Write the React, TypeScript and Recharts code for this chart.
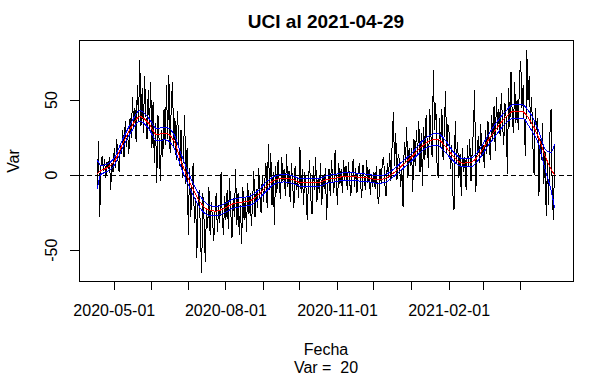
import React from "react";
import { LineChart, Line, XAxis, YAxis, ReferenceLine, ReferenceArea } from "recharts";

const DAY = 86400000;
const startDate = "2020-04-17";

// daily values, one row per month (Apr 17 .. Apr 29)
const aprValues20 = [-8, 23, -28, 6, 13, 3, 11, -2, 9, 4, 12, -10, 8, 2];
const mayValues = [18, 5, 24, 10, 2, 21, 14, 30, 12, 36, 19, 28, 14, 38, 25, 52, 31, 45, 22, 60, 36, 77, 33, 58, 28, 66, 41, 24, 57, 30, 62];
const junValues = [18, 49, 8, 35, -5, 40, 22, -4, 30, 12, 44, 20, 60, 24, 67, 15, 48, 62, 19, 38, 10, 43, 25, 6, 30, -2, 14, 40, -6, 18];
const julValues = [-40, 5, -28, -8, 8, -32, -15, -55, -20, -10, -38, -65, -12, -30, -58, -22, -35, -8, -40, -18, -30, -44, -25, -12, -38, -20, -32, 2, -28, -40, -14];
const augValues = [-30, -10, -36, -2, -24, -42, -15, -28, 4, -33, -12, -40, -20, -46, -8, -30, -15, -38, -5, -26, -12, -34, -18, 3, -28, -9, -22, 5, -14, -25, 0];
const sepValues = [-18, -5, 8, -22, 21, -10, 15, -20, 2, -33, 6, -12, 10, -6, -16, 12, -4, 4, -14, 14, -8, 3, -18, 8, -5, -22, 6, -10, -2, -15];
const octValues = [19, -12, 4, -20, 2, -8, -30, -4, 10, -16, -26, 6, -10, 12, -18, -2, -12, 8, -20, 0, -9, 5, -30, -6, 4, -14, 10, -3, -12, 17, -5];
const novValues = [-20, 8, -6, 4, -12, 10, -3, 6, -10, 9, -4, -14, 3, 11, -8, 5, -12, 2, 8, -6, -15, 7, -2, -10, 10, -5, 4, -13, 1, -8];
const decValues = [2, -9, 6, -14, -19, 4, -5, 10, 12, -6, -14, 8, -2, 15, -4, 20, 42, 6, 28, -3, 14, 10, -8, 4, -21, 22, 8, 32, -2, 18, 6];
const janValues = [18, -11, 24, 6, 30, 14, 36, 2, 28, -7, 32, 10, 40, 20, 5, 44, 26, 12, 70, 30, 48, 8, -2, 38, 18, 44, 10, 30, 56, 15, 34];
const febValues = [28, 4, 20, -12, -23, 36, 8, 22, -2, 14, -14, 18, 2, 12, -10, 20, 6, 24, -4, 16, 30, 57, -11, 14, 26, 8, 34, 12];
const marValues = [20, 5, 30, 14, 36, 22, 10, 40, 24, 46, 16, 52, 30, 44, 26, 55, 34, 20, 48, 38, 1, 58, 32, 69, 40, 28, 62, 35, 50, 30, 66];
const aprValues21 = [76, 45, 60, 28, 13, 83, 50, 66, 34, 52, 20, 0, 45, 30, 38, -14, 24, 10, 35, -6, 16, -27, 8, -20, 26, 44, -12, -30, 20];

// smoothed fit and bands, days since start
const smoothDays = [0, 3, 7, 14, 21, 28, 35, 42, 49, 56, 63, 70, 77, 84, 91, 98, 105, 112, 119, 126, 133, 140, 147, 154, 161, 168, 175, 182, 189, 196, 203, 210, 217, 224, 231, 238, 245, 252, 259, 266, 273, 280, 287, 294, 301, 308, 315, 322, 329, 336, 343, 350, 357, 364, 369, 374, 377];
const fitValues = [1, 3, 4.5, 9, 21, 32, 39, 35, 27, 28, 23, 7, -6, -17, -23, -24, -22, -19, -18, -17, -13, -7, -3, -2, -3, -5, -5, -5, -3, -2, -1, -1, -1.5, -2, -3, -2, 2, 7, 12, 18, 22.5, 24, 19, 12, 8, 8.5, 14, 23, 31, 38, 42.5, 42.5, 36, 24.5, 13, 4, 0];
const upperValues = [10, 6.5, 7, 11.5, 24, 35, 43, 38.5, 31, 32, 27.5, 12, -2, -13, -19.5, -21, -19, -16, -15, -14, -10, -4, -0.5, 0.5, -0.5, -2.5, -2.5, -2.5, -0.5, 0.5, 1.5, 1.5, 1, 0.5, -0.5, 0.5, 4.5, 9.5, 14.5, 21, 26, 28, 23, 15, 11, 11.5, 17, 26.5, 35, 42, 47, 47, 41, 29, 17.5, 15, 21];
const lowerValues = [-9, 0.5, 2, 6.5, 18.5, 29, 36, 31.5, 23, 23.5, 18.5, 3, -10, -21, -26.5, -27, -25, -22, -21, -20, -16, -10, -5.5, -4.5, -5.5, -7.5, -7.5, -7.5, -5.5, -4.5, -3.5, -3.5, -4, -4.5, -5.5, -4.5, -0.5, 4.5, 9.5, 15, 19, 20, 15, 9, 5.5, 5.5, 11, 19.5, 27, 34, 38, 38, 31, 20, 4, -10, -22];

const tickDates = ["2020-05-01", "2020-06-01", "2020-07-01", "2020-08-01", "2020-09-01", "2020-10-01", "2020-11-01", "2020-12-01", "2021-01-01", "2021-02-01", "2021-03-01", "2021-04-01"];
const labeledDates = ["2020-05-01", "2020-08-01", "2020-11-01", "2021-02-01"];
const yTicks = [-50, 0, 50];

const toTime = (s: string) => {
  const [y, m, d] = s.split("-").map(Number);
  return Date.UTC(y, m - 1, d);
};

const t0 = toTime(startDate);
const allValues = [
  ...aprValues20, ...mayValues, ...junValues, ...julValues, ...augValues, ...sepValues,
  ...octValues, ...novValues, ...decValues, ...janValues, ...febValues, ...marValues, ...aprValues21,
];
const daily = allValues.map((v, i) => ({ t: t0 + i * DAY, v }));
const smooth = smoothDays.map((d, i) => ({ t: t0 + d * DAY, fit: fitValues[i], up: upperValues[i], lo: lowerValues[i] }));
const lastDay = allValues.length - 1;
const xPad = lastDay * 0.04;
const xMin = t0 - xPad * DAY;
const xMax = t0 + (lastDay + xPad) * DAY;
const yMin = -70.5;
const yMax = 90;
const xTicks = tickDates.map(toTime);
const labelSet = new Set(labeledDates.map(toTime));

const font = "'Liberation Sans', Arial, sans-serif";
const crisp = { shapeRendering: "crispEdges" } as React.CSSProperties;

function XTick(props: any) {
  const { x, y, payload } = props;
  if (!labelSet.has(payload.value)) return null;
  const d = new Date(payload.value).toISOString().slice(0, 10);
  return (
    <text x={x} y={y + 24} textAnchor="middle" fontSize={16} fontFamily={font} fill="#000">
      {d}
    </text>
  );
}

function YTick(props: any) {
  const { x, y, payload } = props;
  const bx = x - 11;
  return (
    <text x={bx} y={y} transform={`rotate(-90, ${bx}, ${y})`} textAnchor="middle" fontSize={16} fontFamily={font} fill="#000">
      {payload.value}
    </text>
  );
}

export default function App() {
  return (
    <div style={{ position: "absolute", left: 0, top: 0, width: 614, height: 379, background: "#fff" }}>
      <LineChart width={614} height={379} margin={{ top: 40, right: 41, bottom: 0, left: 0 }}>
        <XAxis
          dataKey="t"
          type="number"
          domain={[xMin, xMax]}
          ticks={xTicks}
          interval={0}
          tick={<XTick />}
          tickSize={9}
          tickLine={{ stroke: "#000", style: crisp }}
          axisLine={false}
          height={98}
          allowDataOverflow
        />
        <YAxis
          type="number"
          domain={[yMin, yMax]}
          ticks={yTicks}
          interval={0}
          tick={<YTick />}
          tickSize={9}
          tickLine={{ stroke: "#000", style: crisp }}
          axisLine={false}
          width={79}
          allowDataOverflow
        />
        <ReferenceArea x1={xMin} x2={xMax} y1={yMin} y2={yMax} fill="none" fillOpacity={0} stroke="#000" strokeWidth={1} ifOverflow="visible" style={crisp} />
        <Line data={daily} dataKey="v" type="linear" stroke="#000" strokeWidth={1} dot={false} isAnimationActive={false} style={crisp} />
        <ReferenceLine y={0} stroke="#000" strokeDasharray="5 3" style={crisp} />
        <Line data={smooth} dataKey="up" type="monotone" stroke="#0000ff" strokeWidth={1} dot={false} isAnimationActive={false} style={crisp} />
        <Line data={smooth} dataKey="lo" type="monotone" stroke="#0000ff" strokeWidth={1} dot={false} isAnimationActive={false} style={crisp} />
        <Line data={smooth} dataKey="fit" type="monotone" stroke="#ff0000" strokeWidth={1} dot={false} isAnimationActive={false} style={crisp} />
      </LineChart>
      <svg width={614} height={379} style={{ position: "absolute", left: 0, top: 0, pointerEvents: "none" }}>
        <text x={326} y={28} textAnchor="middle" fontSize={19} fontWeight="bold" fontFamily={font}>
          UCI al 2021-04-29
        </text>
        <text x={326} y={355} textAnchor="middle" fontSize={16} fontFamily={font}>
          Fecha
        </text>
        <text x={326} y={373} textAnchor="middle" fontSize={16} fontFamily={font} style={{ whiteSpace: "pre" }}>
          {"Var =  20"}
        </text>
        <text x={19} y={161} transform="rotate(-90, 19, 161)" textAnchor="middle" fontSize={16} fontFamily={font}>
          Var
        </text>
      </svg>
    </div>
  );
}
